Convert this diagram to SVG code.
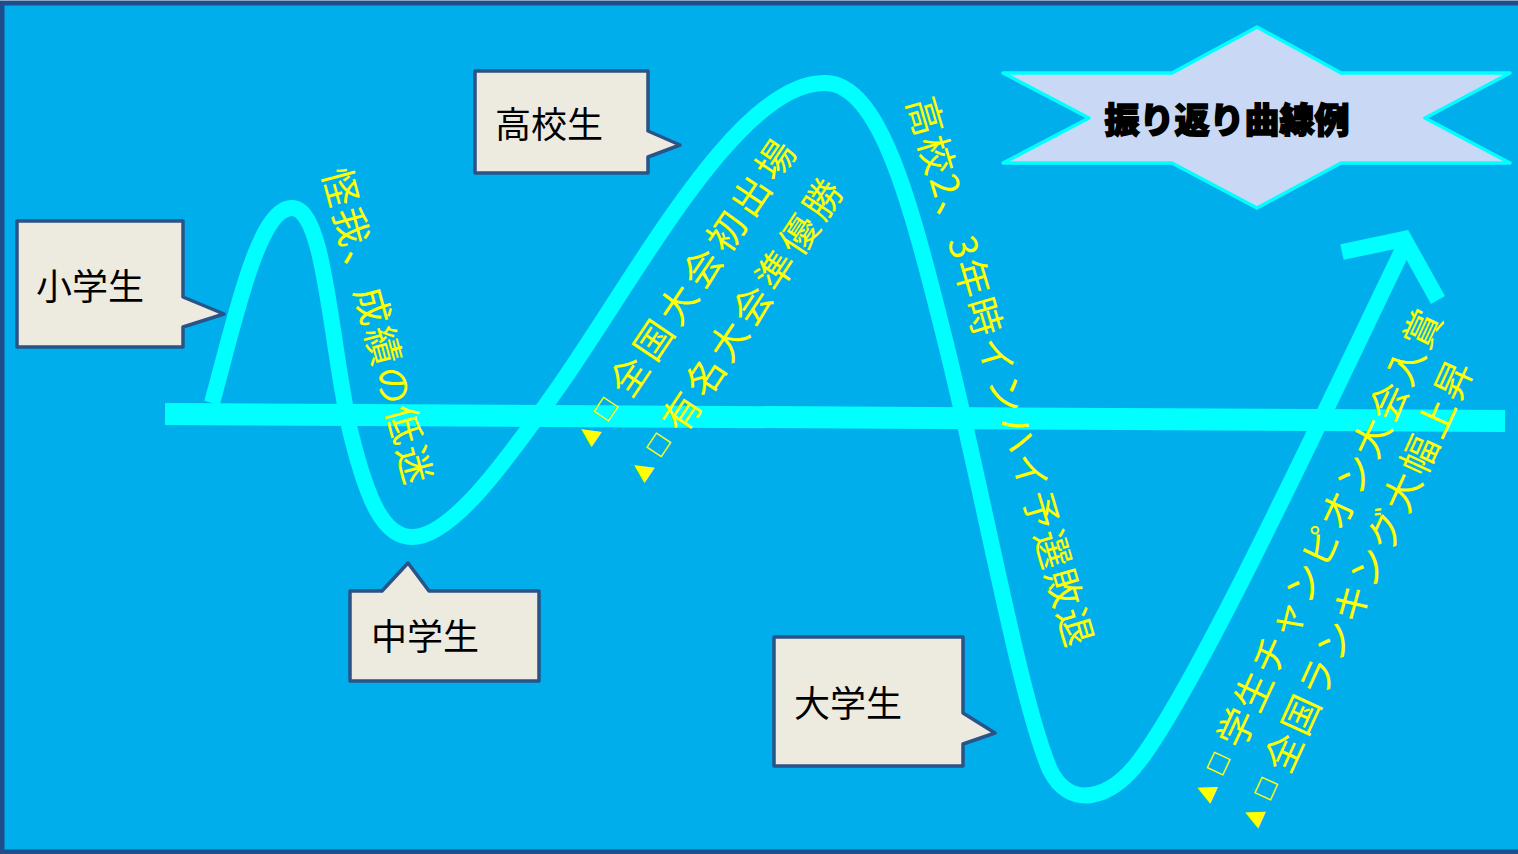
<svg xmlns="http://www.w3.org/2000/svg" width="1518" height="854" viewBox="0 0 1518 854">
<style>
.bg{fill:#00AEEC;stroke:#1F4E8C;stroke-width:5}
.call{fill:#EDEBE0;stroke:#2A5388;stroke-width:3.5;stroke-linejoin:round}
.lbl{font-family:"Noto Sans CJK JP","Noto Sans",sans-serif;font-size:36px;fill:#000}
.yl{font-family:"Noto Sans CJK JP","Noto Sans",sans-serif;font-size:38px;fill:#FFFF00;dominant-baseline:central}
.bul{font-family:"DejaVu Sans",sans-serif;font-size:24px;letter-spacing:10px}
.cy{fill:none;stroke:#00FFFF}
</style>
<rect class="bg" x="2" y="3" width="1530" height="849"/>
<g id="connectors">
<line class="cy" x1="165" y1="414" x2="1505" y2="421" stroke-width="22"/>
<path class="cy" stroke-width="16" stroke-linecap="butt" d="M 212 403 C 235 320, 258 208, 292 208 C 325 208, 330 340, 350 430 C 368 505, 385 537, 412 537 C 450 537, 500 470, 560 385 C 640 270, 740 80, 826 83 C 880 85, 910 200, 945 340 C 985 500, 1020 700, 1050 770 C 1070 810, 1110 800, 1140 760 C 1200 680, 1330 400, 1405 245"/>
<polyline class="cy" stroke-width="16" points="1342,252 1404,239 1438,300" stroke-linejoin="miter"/>
</g>
<g id="title">
<polygon points="1003,73 1172,73 1257,27 1341,73 1510,73 1425,118 1510,163 1341,163 1257,208 1172,163 1003,163 1089,118" fill="#C9D9F5" stroke="#00FFFF" stroke-width="3.5" stroke-linejoin="round"/>
<text x="1227" y="133" text-anchor="middle" font-family="'Noto Sans CJK JP',sans-serif" font-size="35" font-weight="900" fill="#000" stroke="#000" stroke-width="1.5">振り返り曲線例</text>
</g>
<g id="node-elementary">
<path class="call" d="M17,221 H183 V297 L224,314 L183,327 V347 H17 Z"/>
<text class="lbl" x="36" y="300">小学生</text>
</g>
<g id="node-high">
<path class="call" d="M475,71 H648 V131 L680,145 L648,157 V173 H475 Z"/>
<text class="lbl" x="495" y="138">高校生</text>
</g>
<g id="node-junior">
<path class="call" d="M350,591 H382 L408,563 L429,591 H539 V681 H350 Z"/>
<text class="lbl" x="371" y="650">中学生</text>
</g>
<g id="node-university">
<path class="call" d="M774,637 H963 V713 L995,733 L963,744 V766 H774 Z"/>
<text class="lbl" x="794" y="717">大学生</text>
</g>
<g id="text-injury">
<text class="yl" transform="translate(338,168) rotate(75)" letter-spacing="3">怪我、成績の低迷</text>
</g>
<g id="text-nationals">
<text class="yl" transform="translate(582,441) rotate(-56)"><tspan class="bul">▲□</tspan><tspan letter-spacing="5.5">全国大会初出場</tspan></text>
<text class="yl" transform="translate(635,477) rotate(-56.5)"><tspan class="bul">▲□</tspan><tspan letter-spacing="4.5">有名大会準優勝</tspan></text>
</g>
<g id="text-interhigh">
<text class="yl" transform="translate(922,97) rotate(73.6)" letter-spacing="2.5">高校2、3年時インハイ予選敗退</text>
</g>
<g id="text-champion">
<text class="yl" transform="translate(1200,799) rotate(-65)"><tspan class="bul">▲□</tspan><tspan letter-spacing="2">学生チャンピオン大会入賞</tspan></text>
<text class="yl" transform="translate(1248,824) rotate(-65.5)"><tspan class="bul">▲□</tspan><tspan letter-spacing="3">全国ランキング大幅上昇</tspan></text>
</g>
</svg>
